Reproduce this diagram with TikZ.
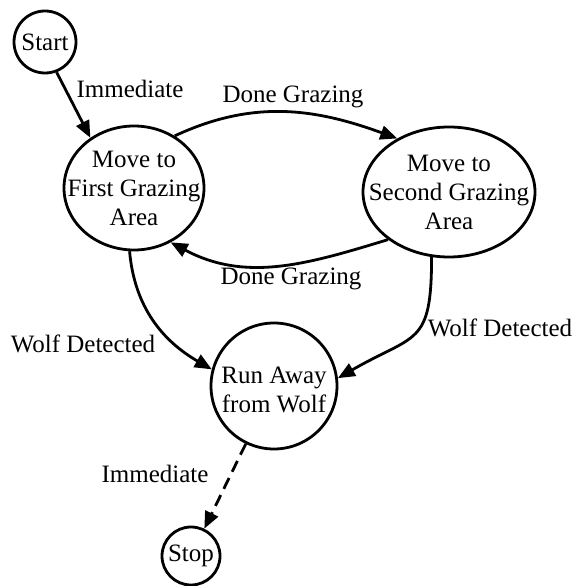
\documentclass[tikz,border=0pt]{standalone}
\usepackage{fontspec}
\setmainfont{Liberation Serif}
\usetikzlibrary{arrows.meta,shapes}
\tikzstyle{state}=[solid,circle,black,draw,line width=2.8pt,inner sep=0pt]
\tikzstyle{bigstate}=[solid,ellipse,black,draw,line width=2.8pt,inner sep=0pt]
\tikzstyle{statetext}=[align=center,inner sep=0pt]
\tikzstyle{edge}=[solid,black,draw,line width=2.8pt,-{Triangle[length=17pt,width=14pt]}]
\tikzstyle{dashededge}=[edge,dash pattern=on 12pt off 7pt]
\tikzstyle{edgelabel}=[inner sep=0pt]

\begin{document}
\begin{tikzpicture}[x=1pt,y=1pt,font=\rmfamily\fontsize{25}{29}\selectfont]
	\useasboundingbox (0,0) rectangle (575,586);
	\node[state,minimum size=62pt] (start) at (45,544) {Start};
	\node[bigstate,minimum width=140pt,minimum height=124pt,
		label={[statetext]center:{Move to\\First Grazing\\Area}}] (first) at (134,398) {};
	\node[bigstate,minimum width=172pt,minimum height=130pt,
		label={[statetext]center:{Move to\\Second Grazing\\Area}}] (second) at (449,394) {};
	\node[state,minimum size=126pt,
		label={[statetext,yshift=-4pt]center:{Run Away\\from Wolf}}] (run) at (274,200) {};
	\node[state,minimum size=58pt] (stop) at (191,30) {Stop};
	% transition labels
	\node[edgelabel] (imm1) at (130,497) {Immediate};
	\node[edgelabel] (done1) at (293,489) {Done Grazing};
	\node[edgelabel] (done2) at (291,307) {Done Grazing};
	\node[edgelabel] (wolf1) at (83,242) {Wolf Detected};
	\node[edgelabel] (wolf2) at (500,258) {Wolf Detected};
	\node[edgelabel] (imm2) at (155,112) {Immediate};
	% transitions
	\path[edge] (start.-69) -- (first.131);
	\path[edge] (first.52) to[out=25,in=160] (second.134);
	\path[edge] (second.218) to[out=197,in=-28] (first.-56);
	\path[edge] (first.-94) to[out=-85,in=150] (run.165);
	\path[edge] (second.-105) to[out=-90,in=30,looseness=1.5] (run.7);
	\path[dashededge] (run) -- (stop);
\end{tikzpicture}
\end{document}
